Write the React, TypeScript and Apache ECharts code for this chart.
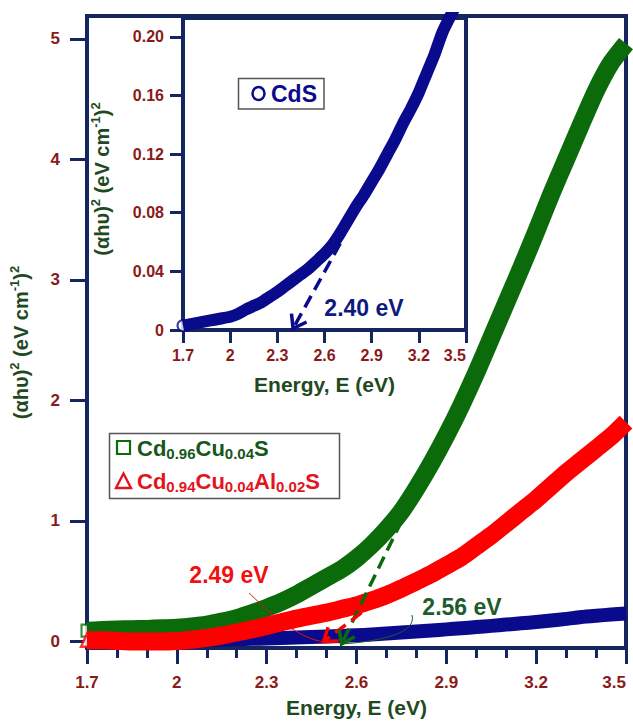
import React, { useEffect, useRef } from 'react';
import * as echarts from 'echarts';

// ---------- data ----------
const energy = [
  1.7, 1.75, 1.8, 1.85, 1.9, 1.95, 2.0, 2.05, 2.1, 2.15, 2.2, 2.25, 2.3, 2.35, 2.4, 2.45, 2.5, 2.55, 2.6,
  2.65, 2.7, 2.75, 2.8, 2.85, 2.9, 2.95, 3.0, 3.05, 3.1, 3.15, 3.2, 3.25, 3.3, 3.35, 3.4, 3.45, 3.5,
];
// CdS (blue circles)
const cdsValues = [
  0.003, 0.004, 0.005, 0.006, 0.007, 0.008, 0.009, 0.011, 0.014, 0.0165, 0.019, 0.0225, 0.026, 0.03, 0.034,
  0.038, 0.042, 0.047, 0.052, 0.058, 0.066, 0.075, 0.084, 0.092, 0.101, 0.11, 0.12, 0.13, 0.141, 0.151, 0.162,
  0.175, 0.188, 0.203, 0.214, 0.224, 0.233,
];
// Cd0.96Cu0.04S (green squares)
const cuValues = [
  0.09, 0.095, 0.1, 0.102, 0.105, 0.11, 0.115, 0.125, 0.14, 0.165, 0.195, 0.235, 0.28, 0.33, 0.39, 0.46, 0.53,
  0.6, 0.69, 0.8, 0.93, 1.08, 1.27, 1.48, 1.71, 1.96, 2.23, 2.52, 2.81, 3.1, 3.4, 3.71, 4.0, 4.29, 4.57, 4.8,
  4.96,
];
// Cd0.94Cu0.04Al0.02S (red triangles)
const cuAlValues = [
  0.01, 0.01, 0.005, 0.0, 0.0, 0.0, 0.005, 0.015, 0.03, 0.05, 0.075, 0.1, 0.13, 0.16, 0.19, 0.215, 0.24, 0.27,
  0.3, 0.34, 0.385, 0.44, 0.5, 0.56, 0.63, 0.7, 0.79, 0.88, 0.98, 1.08, 1.18, 1.29, 1.4, 1.5, 1.6, 1.7, 1.82,
];

// tick values
const xMajorTicks = [1.7, 2.0, 2.3, 2.6, 2.9, 3.2, 3.5];
const xMinorTicks = [
  1.7, 1.8, 1.9, 2.0, 2.1, 2.2, 2.3, 2.4, 2.5, 2.6, 2.7, 2.8, 2.9, 3.0, 3.1, 3.2, 3.3, 3.4, 3.5,
];
const mainYTicks = [0, 1, 2, 3, 4, 5];
const insetYTicks = [0, 0.04, 0.08, 0.12, 0.16, 0.2];

// tangent extrapolations (start point, arrow tip)
const cuTangent = [
  [2.78, 1.15],
  [2.55, -0.02],
];
const cuAlTangent = [
  [2.67, 0.34],
  [2.49, 0.0],
];
const cdsTangent = [
  [2.7, 0.059],
  [2.4, 0.001],
];
const gapLabels = { cu: '2.56 eV', cuAl: '2.49 eV', cds: '2.40 eV' };

// ---------- styles ----------
const FONT = '"Liberation Sans", Arial, Helvetica, sans-serif';
const NAVY = '#14255f';
const TICK = '#8a1a1a';
const TITLE = '#1f4a1f';
const GREEN = '#0b6b0b';
const RED = '#ff0000';
const BLUE = '#0a0a8c';
const LEG_GREEN = '#17561a';
const LEG_RED = '#e3141e';
const GAP_GREEN = '#1d5c2d';
const GAP_BLUE = '#0e1a80';

const zip = (xs: number[], ys: number[]) => xs.map((x, i) => [x, ys[i]]);
const fmtX = (v: number) => String(Math.round(v * 10) / 10);

const titleRich = {
  m: { fontSize: 20, fontWeight: 'bold', fontFamily: FONT, color: TITLE, lineHeight: 26 },
  s: { fontSize: 13, fontWeight: 'bold', fontFamily: FONT, color: TITLE, lineHeight: 12, verticalAlign: 'top' },
};
const yTitle = '{m|(αhυ)}{s|2}{m| (eV cm}{s|-1}{m|)}{s|2}';

export default function App() {
  const ref = useRef<HTMLDivElement>(null);

  useEffect(() => {
    if (!ref.current) return;
    const chart = echarts.init(ref.current, undefined, { renderer: 'svg' });

    const tickLabel = { color: TICK, fontSize: 17, fontWeight: 'bold', fontFamily: FONT };
    const insetLabel = { color: TICK, fontSize: 16, fontWeight: 'bold', fontFamily: FONT };

    const option: any = {
      animation: false,
      backgroundColor: '#ffffff',
      grid: [
        { left: 86, right: 7, top: 16, bottom: 70, show: true, borderColor: NAVY, borderWidth: 4, backgroundColor: '#fff' },
        { left: 183, right: 167, top: 18, bottom: 393, show: true, borderColor: NAVY, borderWidth: 4, backgroundColor: '#fff' },
      ],
      xAxis: [
        {
          gridIndex: 0, type: 'value', min: 1.7, max: 3.5, position: 'bottom',
          axisLine: { show: false, onZero: false }, splitLine: { show: false },
          axisTick: { customValues: xMajorTicks, length: 16, lineStyle: { color: NAVY, width: 3 } },
          axisLabel: { customValues: xMajorTicks, formatter: fmtX, margin: 26, alignMaxLabel: 'right', ...tickLabel },
          name: 'Energy, E (eV)', nameLocation: 'middle', nameGap: 49,
          nameTextStyle: { color: TITLE, fontSize: 21, fontWeight: 'bold', fontFamily: FONT },
        },
        {
          gridIndex: 0, type: 'value', min: 1.7, max: 3.5, position: 'bottom',
          axisLine: { show: false, onZero: false }, splitLine: { show: false },
          axisTick: { customValues: xMinorTicks, length: 10, lineStyle: { color: NAVY, width: 3 } },
          axisLabel: { show: false },
        },
        {
          gridIndex: 1, type: 'value', min: 1.7, max: 3.5, position: 'bottom',
          axisLine: { show: false, onZero: false }, splitLine: { show: false },
          axisTick: { customValues: xMajorTicks, length: 13, lineStyle: { color: NAVY, width: 3 } },
          axisLabel: { customValues: xMajorTicks, formatter: fmtX, margin: 17, alignMaxLabel: 'right', ...insetLabel },
          name: 'Energy, E (eV)', nameLocation: 'middle', nameGap: 44,
          nameTextStyle: { color: TITLE, fontSize: 21, fontWeight: 'bold', fontFamily: FONT },
        },
      ],
      yAxis: [
        {
          gridIndex: 0, type: 'value', min: -0.0535, max: 5.189,
          axisLine: { show: false, onZero: false }, splitLine: { show: false },
          axisTick: { customValues: mainYTicks, length: 17, lineStyle: { color: NAVY, width: 3 } },
          axisLabel: { customValues: mainYTicks, margin: 27, ...tickLabel },
          name: yTitle, nameLocation: 'middle', nameRotate: 90, nameGap: 53,
          nameTextStyle: { rich: titleRich, padding: [0, 21, 0, 0] },
        },
        {
          gridIndex: 1, type: 'value', min: 0, max: 0.2128,
          axisLine: { show: false, onZero: false }, splitLine: { show: false },
          axisTick: { customValues: insetYTicks, length: 13, lineStyle: { color: NAVY, width: 3 } },
          axisLabel: {
            customValues: insetYTicks, margin: 19, ...insetLabel,
            formatter: (v: number) => (Math.abs(v) < 1e-9 ? '0' : v.toFixed(2)),
          },
          name: yTitle, nameLocation: 'middle', nameRotate: 90, nameGap: 68,
          nameTextStyle: { rich: titleRich, padding: [0, 10, 0, 0] },
        },
      ],
      series: [
        // 0 main CdS band
        {
          type: 'line', xAxisIndex: 0, yAxisIndex: 0, data: zip(energy, cdsValues), symbol: 'none', showSymbol: false,
          smooth: 0.2, silent: true, lineStyle: { color: BLUE, width: 14, join: 'round' },
        },
        // 1 green band
        {
          type: 'line', xAxisIndex: 0, yAxisIndex: 0, data: zip(energy, cuValues), symbol: 'none', showSymbol: false,
          smooth: 0.2, silent: true, lineStyle: { color: GREEN, width: 18, join: 'round' },
        },
        // 2 red band
        {
          type: 'line', xAxisIndex: 0, yAxisIndex: 0, data: zip(energy, cuAlValues), symbol: 'none', showSymbol: false,
          smooth: 0.2, silent: true, lineStyle: { color: RED, width: 18, join: 'round' },
        },
        // 3 green first marker
        {
          type: 'scatter', xAxisIndex: 0, yAxisIndex: 0, clip: false, silent: true,
          data: [[energy[0], cuValues[0]]], symbol: 'rect', symbolSize: [11, 12],
          itemStyle: { color: '#fff', borderColor: GREEN, borderWidth: 2.2 },
        },
        // 4 red first marker
        {
          type: 'scatter', xAxisIndex: 0, yAxisIndex: 0, clip: false, silent: true,
          data: [[energy[0], cuAlValues[0]]], symbol: 'triangle', symbolSize: [12, 13],
          itemStyle: { color: '#fff', borderColor: RED, borderWidth: 2.4 },
        },
        // 5 green tangent
        {
          type: 'line', xAxisIndex: 0, yAxisIndex: 0, data: cuTangent, symbol: 'none', silent: true,
          lineStyle: { color: GREEN, width: 3.5, type: [13, 7] },
        },
        // 6 red tangent
        {
          type: 'line', xAxisIndex: 0, yAxisIndex: 0, data: cuAlTangent, symbol: 'none', silent: true,
          lineStyle: { color: RED, width: 3.5, type: [13, 7] },
        },
        // 7 inset CdS band
        {
          type: 'line', xAxisIndex: 2, yAxisIndex: 1, data: zip(energy, cdsValues), symbol: 'none', showSymbol: false,
          smooth: 0.2, silent: true, lineStyle: { color: BLUE, width: 12, join: 'round' },
        },
        // 8 inset first marker
        {
          type: 'scatter', xAxisIndex: 2, yAxisIndex: 1, clip: false, silent: true,
          data: [[energy[0], cdsValues[0]]], symbol: 'circle', symbolSize: 11,
          itemStyle: { color: '#fff', borderColor: BLUE, borderWidth: 2 },
        },
        // 9 inset tangent
        {
          type: 'line', xAxisIndex: 2, yAxisIndex: 1, data: cdsTangent, symbol: 'none', silent: true,
          lineStyle: { color: BLUE, width: 3.5, type: [13, 7] },
        },
      ],
    };

    chart.setOption(option);

    const px = (seriesIndex: number, pt: number[]) => chart.convertToPixel({ seriesIndex }, pt) as number[];
    const arrowHead = (seriesIndex: number, seg: number[][], color: string) => {
      const p0 = px(seriesIndex, seg[0]);
      const p1 = px(seriesIndex, seg[1]);
      const dx = p1[0] - p0[0];
      const dy = p1[1] - p0[1];
      const len = Math.hypot(dx, dy) || 1;
      const ux = -dx / len;
      const uy = -dy / len;
      const a = (35 * Math.PI) / 180;
      const L = 15;
      const rot = (t: number) => [ux * Math.cos(t) - uy * Math.sin(t), ux * Math.sin(t) + uy * Math.cos(t)];
      const r1 = rot(a);
      const r2 = rot(-a);
      return {
        type: 'polyline', z: 100, silent: true,
        shape: { points: [[p1[0] + L * r1[0], p1[1] + L * r1[1]], [p1[0], p1[1]], [p1[0] + L * r2[0], p1[1] + L * r2[1]]] },
        style: { stroke: color, lineWidth: 3.5, fill: null, lineJoin: 'miter' },
      };
    };

    const cuTip = px(5, cuTangent[1]);
    const cuAlTip = px(6, cuAlTangent[1]);

    const legRich = (color: string) => ({
      m: { fontSize: 22, fontWeight: 'bold', fontFamily: FONT, fill: color, lineHeight: 26 },
      s: { fontSize: 15, fontWeight: 'bold', fontFamily: FONT, fill: color, lineHeight: 14, verticalAlign: 'bottom' },
    });

    const graphic: any[] = [
      // main legend
      { type: 'rect', z: 100, silent: true, shape: { x: 109.5, y: 433.5, width: 230, height: 65 }, style: { fill: '#fff', stroke: '#555', lineWidth: 1.5 } },
      { type: 'rect', z: 101, silent: true, shape: { x: 117, y: 441, width: 13, height: 13 }, style: { fill: '#fff', stroke: GREEN, lineWidth: 2.2 } },
      {
        type: 'text', z: 101, silent: true,
        style: { x: 137, y: 448, text: '{m|Cd}{s|0.96}{m|Cu}{s|0.04}{m|S}', rich: legRich(LEG_GREEN), align: 'left', verticalAlign: 'middle' },
      },
      { type: 'polygon', z: 101, silent: true, shape: { points: [[123.5, 473.5], [116, 488], [131, 488]] }, style: { fill: '#fff', stroke: LEG_RED, lineWidth: 2.4 } },
      {
        type: 'text', z: 101, silent: true,
        style: { x: 137, y: 481, text: '{m|Cd}{s|0.94}{m|Cu}{s|0.04}{m|Al}{s|0.02}{m|S}', rich: legRich(LEG_RED), align: 'left', verticalAlign: 'middle' },
      },
      // inset legend
      { type: 'rect', z: 100, silent: true, shape: { x: 238.5, y: 78.5, width: 85.5, height: 30.5 }, style: { fill: '#fff', stroke: '#555', lineWidth: 1.5 } },
      { type: 'ellipse', z: 101, silent: true, shape: { cx: 258.5, cy: 93.5, rx: 6, ry: 6.5 }, style: { fill: '#fff', stroke: BLUE, lineWidth: 2.5 } },
      {
        type: 'text', z: 101, silent: true,
        style: { x: 271, y: 94, text: 'CdS', fill: BLUE, fontSize: 23, fontWeight: 'bold', fontFamily: FONT, align: 'left', verticalAlign: 'middle' },
      },
      // gap annotations
      {
        type: 'text', z: 101, silent: true,
        style: { x: 364, y: 308, text: gapLabels.cds, fill: GAP_BLUE, fontSize: 23, fontWeight: 'bold', fontFamily: FONT, align: 'center', verticalAlign: 'middle' },
      },
      {
        type: 'text', z: 101, silent: true,
        style: { x: 229, y: 575, text: gapLabels.cuAl, fill: '#f01010', fontSize: 23, fontWeight: 'bold', fontFamily: FONT, align: 'center', verticalAlign: 'middle' },
      },
      {
        type: 'text', z: 101, silent: true,
        style: { x: 462, y: 607, text: gapLabels.cu, fill: GAP_GREEN, fontSize: 23, fontWeight: 'bold', fontFamily: FONT, align: 'center', verticalAlign: 'middle' },
      },
      // leader curves
      {
        type: 'bezierCurve', z: 101, silent: true,
        shape: { x1: 249, y1: 593, cpx1: 262, cpy1: 605, cpx2: 292, cpy2: 636, x2: cuAlTip[0] - 2, y2: cuAlTip[1] },
        style: { stroke: '#e01010', lineWidth: 1, fill: null },
      },
      {
        type: 'bezierCurve', z: 101, silent: true,
        shape: { x1: 412, y1: 615, cpx1: 417, cpy1: 633, cpx2: 382, cpy2: 641, x2: cuTip[0] + 1, y2: cuTip[1] },
        style: { stroke: GAP_GREEN, lineWidth: 1, fill: null },
      },
      // arrow heads
      arrowHead(5, cuTangent, GREEN),
      arrowHead(6, cuAlTangent, RED),
      arrowHead(9, cdsTangent, BLUE),
    ];

    chart.setOption({ graphic });

    return () => {
      chart.dispose();
    };
  }, []);

  return (
    <div
      ref={ref}
      style={{ position: 'fixed', left: 0, top: 0, width: 633, height: 723, background: '#fff' }}
    />
  );
}
